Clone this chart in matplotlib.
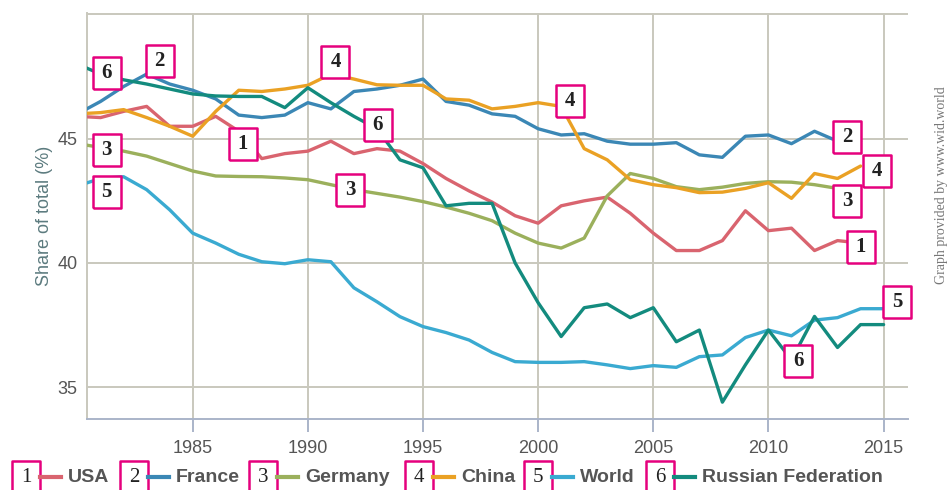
import numpy as np
import matplotlib
matplotlib.use("Agg")
from matplotlib import pyplot as plt
from matplotlib.lines import Line2D

years = np.arange(1980, 2016)

usa = [45.9, 45.85, 46.1, 46.3, 45.5, 45.5, 45.9, 45.3, 44.2, 44.4,
       44.5, 44.9, 44.4, 44.6, 44.5, 44.0, 43.4, 42.9, 42.45, 41.9,
       41.6, 42.3, 42.5, 42.65, 42.0, 41.2, 40.5, 40.5, 40.9, 42.1,
       41.3, 41.4, 40.5, 40.9, 40.8]
france = [46.0, 46.5, 47.1, 47.6, 47.2, 46.95, 46.6, 45.95, 45.85, 45.95,
          46.45, 46.2, 46.9, 47.0, 47.15, 47.4, 46.5, 46.35, 46.0, 45.9,
          45.4, 45.15, 45.2, 44.9, 44.78, 44.78, 44.84, 44.35, 44.25, 45.1,
          45.15, 44.8, 45.3, 44.9, 44.9]
germany = [44.8, 44.65, 44.5, 44.3, 44.0, 43.7, 43.5, 43.48, 43.47, 43.42,
           43.35, 43.15, 42.95, 42.8, 42.65, 42.47, 42.25, 42.0, 41.7, 41.2,
           40.8, 40.6, 41.0, 42.7, 43.6, 43.4, 43.07, 42.95, 43.05, 43.2,
           43.27, 43.25, 43.15, 43.0, 42.95]
china = [46.0, 46.05, 46.17, 45.85, 45.5, 45.1, 46.1, 46.95, 46.9, 47.0,
         47.15, 47.6, 47.4, 47.17, 47.15, 47.15, 46.6, 46.55, 46.2, 46.3,
         46.45, 46.3, 44.6, 44.15, 43.35, 43.15, 43.03, 42.83, 42.85, 43.0,
         43.23, 42.6, 43.6, 43.4, 43.9]
world = [43.1, 43.4, 43.47, 42.95, 42.14, 41.2, 40.8, 40.35, 40.05, 39.97,
         40.13, 40.05, 39.0, 38.44, 37.84, 37.44, 37.2, 36.9, 36.4, 36.03,
         36.0, 36.0, 36.03, 35.9, 35.75, 35.87, 35.8, 36.23, 36.3, 37.0,
         37.3, 37.07, 37.7, 37.8, 38.16, 38.16]
russia = [48.0, 47.6, 47.37, 47.2, 47.0, 46.8, 46.72, 46.7, 46.7, 46.25,
          47.05, 46.45, 45.9, 45.4, 44.15, 43.83, 42.3, 42.4, 42.4, 40.0,
          38.4, 37.04, 38.2, 38.35, 37.8, 38.2, 36.83, 37.3, 34.4, 35.9,
          37.3, 36.1, 37.85, 36.6, 37.52, 37.52]

names = ["USA", "France", "Germany", "China", "World", "Russian Federation"]
colors = ["#d9646f", "#3b87b5", "#9bb05c", "#eaa124", "#3aaad1", "#138b7e"]
series = [usa, france, germany, china, world, russia]

# numbered tags along the lines: (series number, year, value)
tags = [(6, 1981.26, 47.65), (2, 1983.57, 48.14), (3, 1981.26, 44.56),
        (5, 1981.26, 42.87), (1, 1987.17, 44.8), (4, 1991.2, 48.1),
        (6, 1993.04, 45.56), (3, 1991.83, 42.95), (4, 2001.4, 46.5),
        (2, 2013.43, 45.08), (4, 2014.7, 43.7), (3, 2013.43, 42.5),
        (1, 2014.0, 40.66), (5, 2015.6, 38.44), (6, 2011.3, 36.07)]

MAGENTA = "#e5007d"
GRID = "#c9c8bd"
box = [(-0.9, -1), (0.9, -1), (0.9, 1), (-0.9, 1), (-0.9, -1)]
serif = ["Liberation Serif", "DejaVu Serif"]
sans = ["Liberation Sans", "DejaVu Sans"]

W, H = 951, 490
fig = plt.figure(figsize=(W / 100, H / 100), dpi=100)
ax = fig.add_axes([87 / W, 1 - 419.3 / H, (908 - 87) / W, (419.3 - 12.7) / H])

for vals, c in zip(series, colors):
    ax.plot(years[:len(vals)], vals, color=c, lw=2.4,
            solid_joinstyle="round", solid_capstyle="round", zorder=3)

for n, x, y in tags:
    ax.plot([x], [y], marker=box, ms=23, mfc="white", mec=MAGENTA,
            mew=1.8, zorder=5, clip_on=False)
    ax.text(x, y, str(n), ha="center", va="center", fontsize=15,
            fontweight="bold", family=serif, color="#222222", zorder=6)

ax.set_xlim(1980.41, 2016.06)
ax.set_ylim(33.71, 50.07)
ax.set_xticks(range(1985, 2016, 5))
ax.set_yticks([35, 40, 45, 50])
ax.set_yticklabels(["35", "40", "45", ""])
ax.grid(True, color=GRID, lw=1.4)
ax.set_axisbelow(True)
for s in ["top", "right"]:
    ax.spines[s].set_visible(False)
ax.spines["left"].set_color(GRID)
ax.spines["left"].set_linewidth(1.4)
ax.spines["bottom"].set_color("#aab4c9")
ax.spines["bottom"].set_linewidth(1.4)
ax.tick_params(axis="x", length=9, width=1.4, color="#aab4c9", pad=6,
               labelsize=13, labelcolor="#555555")
ax.tick_params(axis="y", length=0, pad=7, labelsize=13, labelcolor="#555555")
for lab in ax.get_xticklabels() + ax.get_yticklabels():
    lab.set_family(sans)
ax.set_ylabel("Share of total (%)", fontsize=13, color="#5c7b7f",
              family=sans, labelpad=3)

fig.text(941 / W, 1 - 185 / H, "Graph provided by www.wid.world",
         rotation=90, ha="center", va="center", fontsize=10,
         family=serif, color="#777777")

# legend row along the bottom
legend_x = [26, 134, 263, 419, 538, 660]
ly = 1 - 477 / H
for i, (name, c) in enumerate(zip(names, colors)):
    bx = legend_x[i]
    fig.add_artist(Line2D([bx / W], [ly], marker=box, ms=23, mfc="white",
                          mec=MAGENTA, mew=1.8, transform=fig.transFigure))
    fig.text(bx / W, ly, str(i + 1), ha="center", va="center", fontsize=15,
             family=serif, color="#222222")
    fig.add_artist(Line2D([(bx + 14) / W, (bx + 35) / W], [ly, ly], color=c,
                          lw=3, transform=fig.transFigure))
    fig.text((bx + 42) / W, ly, name, ha="left", va="center", fontsize=14,
             fontweight="bold", family=sans, color="#555555")

fig.savefig("out.png", dpi=100)
